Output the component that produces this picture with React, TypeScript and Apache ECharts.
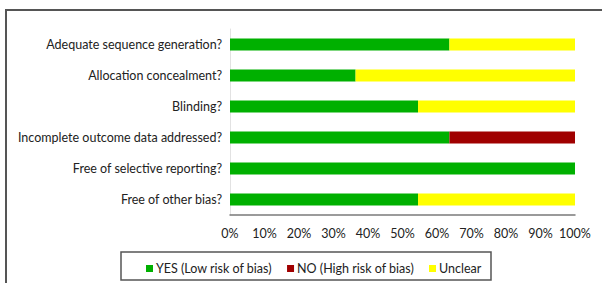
import React, { useEffect, useRef } from "react";
import * as echarts from "echarts";

const categories = [
  "Adequate sequence generation?",
  "Allocation concealment?",
  "Blinding?",
  "Incomplete outcome data addressed?",
  "Free of selective reporting?",
  "Free of other bias?",
];
const yesValues = [63.6, 36.4, 54.5, 63.6, 100, 54.5];
const noValues = [0, 0, 0, 36.4, 0, 0];
const unclearValues = [36.4, 63.6, 45.5, 0, 0, 45.5];
const seriesNames = ["YES (Low risk of bias)", "NO (High risk of bias)", "Unclear"];
const colors = ["#00B000", "#A00000", "#FFFF00"];

const FONT = "Lato, 'Open Sans', sans-serif";

export default function App() {
  const ref = useRef<HTMLDivElement>(null);
  useEffect(() => {
    if (!ref.current) return;
    const chart = echarts.init(ref.current, null, { renderer: "svg" });
    const dataSets = [yesValues, noValues, unclearValues];
    chart.setOption({
      animation: false,
      backgroundColor: "#ffffff",
      textStyle: { fontFamily: FONT },
      grid: { left: 230, right: 27, top: 29, bottom: 68 },
      xAxis: {
        type: "value",
        min: 0,
        max: 100,
        interval: 10,
        axisLine: { show: true, lineStyle: { color: "#7a7a7a", width: 1.5 } },
        axisTick: { show: false },
        splitLine: { show: false },
        axisLabel: {
          formatter: "{value}%",
          color: "#222",
          fontSize: 12.5,
          fontFamily: FONT,
          margin: 12,
        },
      },
      yAxis: {
        type: "category",
        data: categories,
        inverse: true,
        axisLine: { show: true, lineStyle: { color: "#e2e2e2", width: 1 } },
        axisTick: { show: false },
        axisLabel: { color: "#222", fontSize: 12.5, fontFamily: FONT, margin: 8 },
      },
      legend: {
        left: 141,
        top: 257,
        itemWidth: 7,
        itemHeight: 7,
        itemGap: 15,
        icon: "rect",
        textStyle: { color: "#222", fontSize: 12.5, fontFamily: FONT, padding: [0, 0, 0, -2] },
        data: seriesNames,
      },
      graphic: [
        {
          type: "rect",
          shape: { x: 6, y: 10, width: 620, height: 300 },
          style: { fill: "none", stroke: "#555", lineWidth: 2 },
          silent: true,
        },
        {
          type: "rect",
          shape: { x: 121, y: 252, width: 370, height: 28 },
          style: { fill: "none", stroke: "#555", lineWidth: 1.5 },
          silent: true,
        },
      ],
      series: seriesNames.map((name, i) => ({
        name,
        type: "bar",
        stack: "total",
        barWidth: 12,
        itemStyle: { color: colors[i] },
        data: dataSets[i],
      })),
    });
    return () => chart.dispose();
  }, []);
  return (
    <div
      ref={ref}
      style={{ position: "fixed", left: 0, top: 0, width: 602, height: 283 }}
    />
  );
}
